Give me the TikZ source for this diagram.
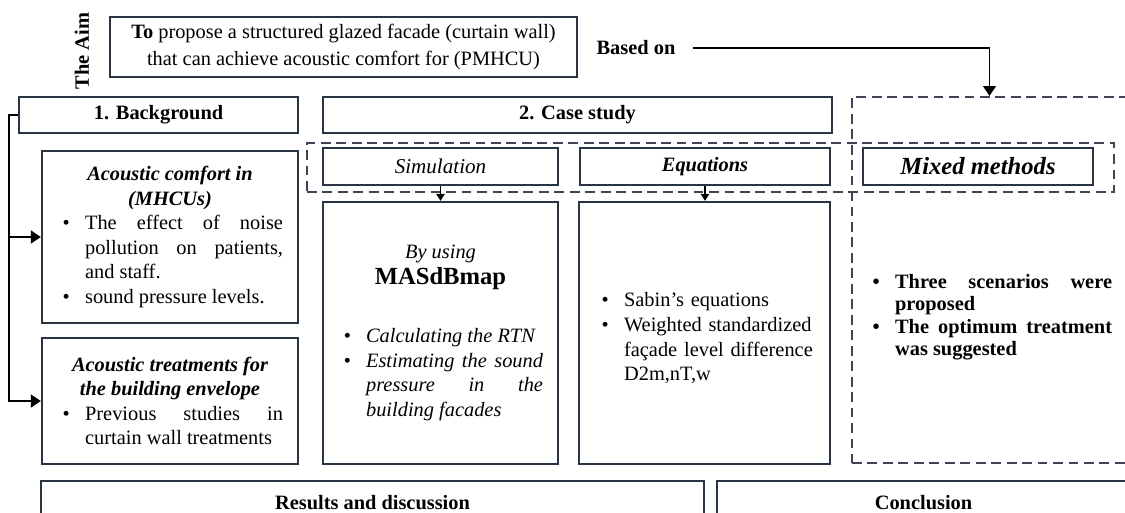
\documentclass[tikz,border=0pt]{standalone}
\usepackage{fontspec}
\setmainfont{Liberation Serif}
\usetikzlibrary{arrows.meta}
\definecolor{boxline}{RGB}{42,52,68}
\definecolor{dashline}{RGB}{62,68,84}
\newcommand\bsz{\fontsize{14.5}{17.5}\selectfont}
\newlength\bulind
\setlength\bulind{20pt}
\newcommand\bitem{\par\noindent\hangindent=\bulind\hangafter=1\makebox[\bulind][l]{\hspace{4pt}\textbullet}}

\begin{document}
\begin{tikzpicture}[x=0.025cm,y=-0.025cm,
    every node/.style={font=\bsz,inner sep=0pt},
    box/.style={draw=boxline,line width=1.6pt},
    dbox/.style={draw=dashline,line width=1.4pt,dash pattern=on 7pt off 4pt},
    arr/.style={-{Triangle[length=7pt,width=9pt]},line width=1.4pt},
    sarr/.style={-{Triangle[length=5pt,width=6pt]},line width=1.2pt}]
    \useasboundingbox (0,0) rectangle (1125,513);

    % aim and top row
    \node[rotate=90,font=\bsz\bfseries] (aimlbl) at (82,51) {The Aim};
    \node[box,minimum width=11.675cm,minimum height=1.5cm,align=center,font=\fontsize{14.5}{19}\selectfont] (aim) at (343.5,47) {\textbf{To} propose a structured glazed facade (curtain wall)\\that can achieve acoustic comfort for (PMHCU)};
    \node[font=\bsz\bfseries] (based) at (636,48) {Based on};
    \node[box,minimum width=6.975cm,minimum height=0.9cm,font=\bsz\bfseries] (bg) at (158.5,115) {1. Background};
    \node[box,minimum width=12.725cm,minimum height=0.9cm,font=\bsz\bfseries] (case) at (577.5,115) {2. Case study};

    % dashed groups
    \node[dbox,minimum width=20.175cm,minimum height=1.225cm] (band) at (710.5,167.5) {};
    \node[dbox,minimum width=7.2cm,minimum height=9.15cm] (mixbox) at (996,280) {};

    % methods
    \node[box,minimum width=5.875cm,minimum height=0.925cm,font=\fontsize{15}{18}\selectfont\itshape] (sim) at (440.5,166.5) {Simulation};
    \node[box,minimum width=6.25cm,minimum height=0.925cm,font=\bsz\bfseries\itshape] (eq) at (705,166.5) {Equations\strut};
    \node[box,minimum width=5.75cm,minimum height=0.925cm,font=\fontsize{17.5}{20}\selectfont\bfseries\itshape] (mixed) at (978,166.5) {Mixed methods};

    % background column
    \node[box,minimum width=6.4cm,minimum height=4.3cm,text width=5.65cm,align=justify] (comfort) at (170,237) {%
        {\centering\bfseries\itshape Acoustic comfort in\\(MHCUs)\par}%
        \bitem The effect of noise\linebreak pollution on patients,\linebreak and staff.
        \bitem sound pressure levels.\par};
    \node[box,minimum width=6.4cm,minimum height=3.15cm,text width=5.65cm,align=justify] (treat) at (170,401) {%
        {\centering\bfseries\itshape Acoustic treatments for\\the building envelope\par}%
        \bitem Previous studies in\linebreak curtain wall treatments\par};

    % case study columns
    \node[box,minimum width=5.875cm,minimum height=6.55cm,text width=5.125cm,align=justify] (masd) at (440.5,333) {%
        {\centering\itshape By using\par}%
        {\centering\fontsize{17.5}{18}\selectfont\bfseries MASdBmap\par}%
        \vspace{24pt}%
        {\itshape\bitem Calculating the RTN
        \bitem Estimating the sound\linebreak pressure in the\linebreak building facades\par}};
    \node[box,minimum width=6.275cm,minimum height=6.55cm,text width=5.425cm,align=left] (eqbox) at (704.5,333) {%
        \bitem Sabin’s equations
        \bitem Weighted standardized\newline façade level difference\newline D2m,nT,w\par};
    \node[text width=6.125cm,align=justify,font=\fontsize{14.5}{16}\selectfont\bfseries] (mixtxt) at (989.5,313) {%
        \bitem Three scenarios were\linebreak proposed
        \bitem The optimum treatment\linebreak was suggested\par};

    % bottom row
    \node[box,minimum width=16.575cm,minimum height=1.1cm,font=\bsz\bfseries] (res) at (372.5,503) {Results and discussion};
    \node[box,minimum width=10.325cm,minimum height=1.1cm,font=\bsz\bfseries] (concl) at (923.5,503) {Conclusion};

    % connectors
    \draw[arr,shorten <=12pt] (based.east) -| (mixbox.north -| mixtxt.center);
    \draw[arr] (bg.west) -- ++(-9,0) |- (comfort.west);
    \draw[arr] (bg.west) -- ++(-9,0) |- (treat.west);
    \draw[sarr] (sim) -- (masd);
    \draw[sarr] (eq) -- (eqbox.north -| eq.south);
\end{tikzpicture}
\end{document}
